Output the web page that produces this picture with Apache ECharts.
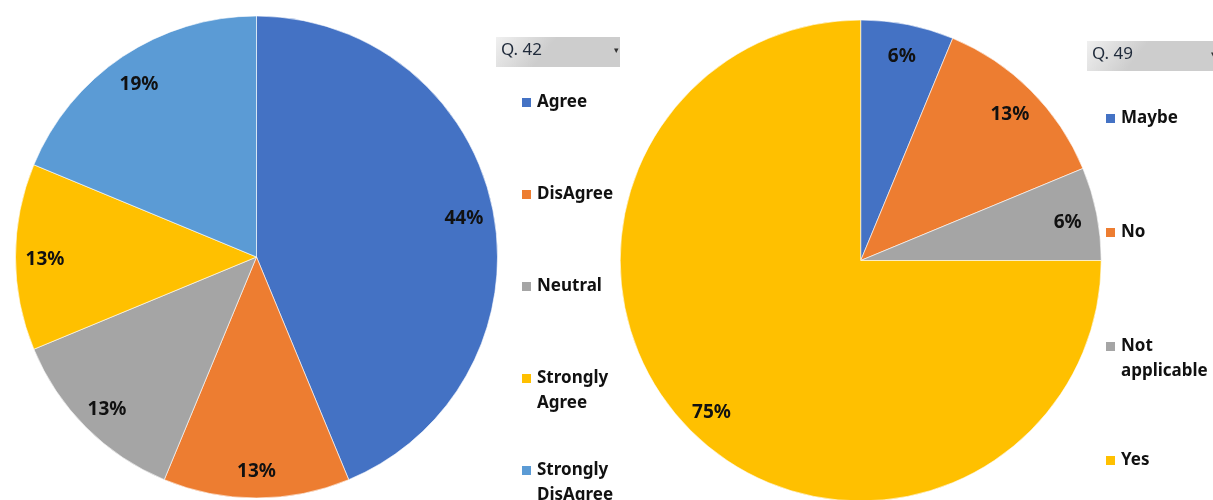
<!DOCTYPE html>
<html>
<head>
<meta charset="utf-8">
<script src="https://cdn.jsdelivr.net/npm/echarts@6/dist/echarts.min.js"></script>
<style>
html,body{margin:0;padding:0;background:#fff;}
#chart{width:1213px;height:500px;}
</style>
</head>
<body>
<div id="chart"></div>
<script>
// Q. 42
const q42Categories = ['Agree', 'DisAgree', 'Neutral', 'Strongly Agree', 'Strongly DisAgree'];
const q42Values = [7, 2, 2, 2, 3];
const q42Title = 'Q. 42';
// Q. 49
const q49Categories = ['Maybe', 'No', 'Not applicable', 'Yes'];
const q49Values = [1, 2, 1, 12];
const q49Title = 'Q. 49';

const q42Colors = ['#4472C4', '#ED7D31', '#A5A5A5', '#FFC000', '#5B9BD5'];
const q49Colors = ['#4472C4', '#ED7D31', '#A5A5A5', '#FFC000'];

const FONT = 'Noto Sans';
const wrapNames = {
  'Strongly Agree': 'Strongly\nAgree',
  'Strongly DisAgree': 'Strongly\nDisAgree',
  'Not applicable': 'Not\napplicable'
};
function legendFmt(name) {
  const w = wrapNames[name];
  return w ? '\n' + w : '\n' + name + '\n';
}
function pct(p) { return Math.round(p.percent) + '%'; }

function toData(cats, vals, colors) {
  return cats.map((c, i) => ({ name: c, value: vals[i], itemStyle: { color: colors[i] } }));
}
function toLabelData(cats, vals) {
  return cats.map((c, i) => ({ name: c, value: vals[i] }));
}

function pieSeries(cats, vals, colors, cx, cy, r) {
  return [
    {
      type: 'pie', center: [cx, cy], radius: [0, r], startAngle: 90, clockwise: true,
      data: toData(cats, vals, colors), label: { show: false }, labelLine: { show: false },
      itemStyle: { borderColor: '#ffffff', borderWidth: 0.6 },
      emphasis: { disabled: true }, silent: true, animation: false
    },
    {
      type: 'pie', center: [cx, cy + 3], radius: [0, r * 1.73], startAngle: 90, clockwise: true,
      data: toLabelData(cats, vals), z: 5, silent: true, animation: false,
      avoidLabelOverlap: false,
      itemStyle: { color: 'rgba(0,0,0,0)', borderWidth: 0 },
      label: { show: true, position: 'inside', formatter: pct, color: '#111', fontFamily: FONT, fontWeight: 'bold', fontSize: 19 },
      labelLine: { show: false }, emphasis: { disabled: true }
    }
  ];
}

function header(x, y, w, h, text) {
  return [
    {
      type: 'rect', left: x, top: y, shape: { width: w, height: h }, silent: true,
      style: { fill: { type: 'linear', x: 0, y: 0, x2: 0.3, y2: 1, colorStops: [
        { offset: 0, color: '#f0f0f0' }, { offset: 1, color: '#cdcdcd' }] } }
    },
    {
      type: 'text', left: x + 5, top: y + 5, silent: true,
      style: { text: text, fill: '#1f2a3a', font: '17px "' + FONT + '"' }
    },
    {
      type: 'text', left: x + w - 6, top: y + 9, silent: true,
      style: { text: '▾', fill: '#333', font: '9px "DejaVu Sans"' }
    }
  ];
}

const legendCommon = {
  orient: 'vertical', icon: 'rect', itemWidth: 11, itemHeight: 11, padding: 0,
  formatter: legendFmt, selectedMode: false, height: 480,
  textStyle: { fontFamily: FONT, fontWeight: 'bold', fontSize: 17, color: '#111', lineHeight: 25 }
};

const chart = echarts.init(document.getElementById('chart'), null, { renderer: 'canvas' });
chart.setOption({
  backgroundColor: '#ffffff',
  animation: false,
  legend: [
    Object.assign({}, legendCommon, { left: 520, top: 65, itemGap: 17, data: q42Categories }),
    Object.assign({}, legendCommon, { left: 1104, top: 81, itemGap: 39, data: q49Categories })
  ],
  graphic: [].concat(header(496, 37, 124, 30, q42Title), header(1087, 41, 130, 30, q49Title)),
  series: [].concat(
    pieSeries(q42Categories, q42Values, q42Colors, 256.5, 257, 241),
    pieSeries(q49Categories, q49Values, q49Colors, 860.7, 260.5, 240.5)
  )
});
</script>
</body>
</html>
